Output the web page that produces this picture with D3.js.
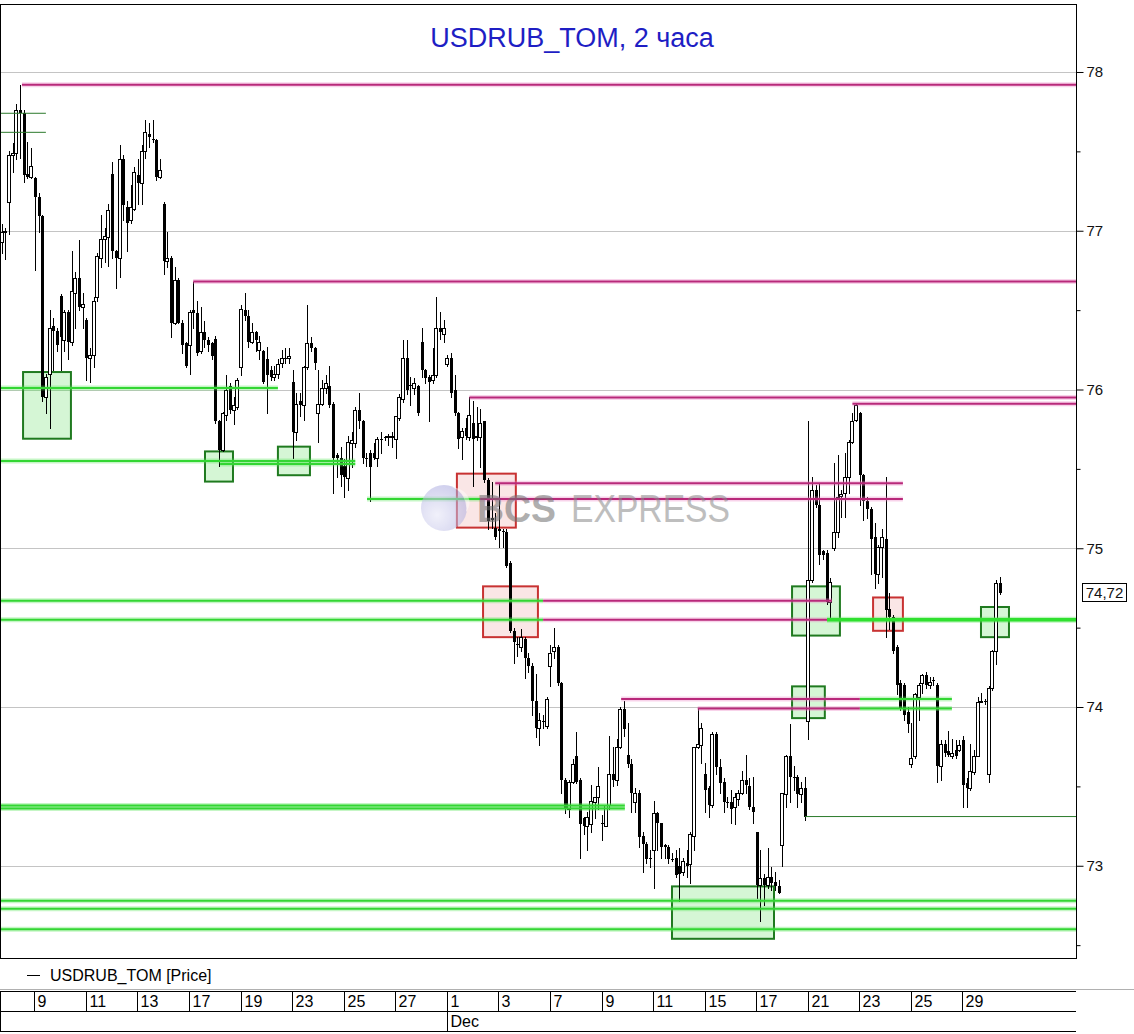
<!DOCTYPE html>
<html><head><meta charset="utf-8">
<script src="https://cdn.jsdelivr.net/npm/d3@7"></script>
<style>body{margin:0;background:#fff;} svg{display:block;font-family:Arial,"Liberation Sans",sans-serif;}</style>
</head><body><svg id="c" width="1134" height="1034"></svg>
<script>
const title = "USDRUB_TOM, 2 часа";
const legendLabel = "USDRUB_TOM [Price]";
const lastPrice = 74.72;
const lastPriceLabel = "74,72";
// [open, high, low, close] per 2-hour candle
const candles = [
[76.93,77.04,76.86,76.99],[76.99,77.02,76.82,77.00],[77.18,77.50,76.98,77.48],[77.48,77.55,77.37,77.49],[77.49,77.80,77.45,77.76],
[77.76,77.92,77.46,77.74],[77.74,77.76,77.31,77.35],[77.36,77.56,77.33,77.34],[77.34,77.52,77.33,77.41],[77.33,77.34,76.75,77.21],
[77.21,77.24,76.99,77.09],[77.09,77.10,75.93,75.95],[75.95,76.10,75.85,76.08],[76.10,76.50,75.76,76.39],[76.40,76.45,76.12,76.37],
[76.37,76.39,76.24,76.28],[76.59,76.60,76.12,76.33],[76.31,76.50,76.24,76.49],[76.49,76.50,76.19,76.30],[76.30,76.87,76.28,76.62],
[76.61,76.74,76.39,76.70],[76.70,76.94,76.50,76.52],[76.52,76.61,76.39,76.54],[76.44,76.45,76.06,76.20],[76.20,76.26,76.05,76.22],
[76.22,76.58,76.14,76.56],[76.58,76.86,76.56,76.84],[76.83,77.10,76.77,76.95],[76.95,77.02,76.80,76.97],[76.96,77.17,76.78,77.13],
[77.36,77.43,76.83,76.87],[76.87,76.88,76.64,76.83],[76.83,77.54,76.71,77.45],[77.45,77.48,77.07,77.16],[77.15,77.19,76.87,77.05],
[77.07,77.29,77.05,77.15],[77.14,77.40,77.13,77.37],[77.35,77.45,77.17,77.30],[77.30,77.54,77.17,77.50],[77.50,77.70,77.46,77.62],
[77.61,77.68,77.53,77.59],[77.58,77.70,77.56,77.57],[77.57,77.58,77.32,77.34],[77.34,77.45,77.33,77.38],[77.17,77.18,76.73,76.81],
[76.81,76.99,76.77,76.83],[76.83,76.84,76.33,76.42],[76.42,76.77,76.41,76.69],[76.69,76.70,76.42,76.42],[76.42,76.44,76.23,76.28],
[76.29,76.30,76.14,76.15],[76.28,76.50,76.10,76.49],[76.50,76.68,76.39,76.48],[76.48,76.56,76.22,76.23],[76.24,76.52,76.23,76.36],
[76.36,76.43,76.27,76.31],[76.31,76.33,76.24,76.28],[76.29,76.30,76.19,76.21],[76.32,76.34,75.79,75.80],[75.80,75.81,75.52,75.62],
[75.62,75.86,75.61,75.85],[75.84,76.09,75.81,76.00],[76.02,76.04,75.85,75.87],[75.87,75.95,75.78,75.90],[75.89,76.07,75.88,76.06],
[76.14,76.53,76.09,76.51],[76.50,76.61,76.44,76.46],[76.46,76.50,76.27,76.30],[76.30,76.42,76.29,76.36],[76.36,76.37,76.24,76.31],
[76.25,76.34,76.19,76.30],[76.24,76.25,76.04,76.05],[76.19,76.27,75.85,76.09],[76.12,76.15,76.06,76.08],[76.08,76.15,76.06,76.10],
[76.10,76.19,76.07,76.16],[76.17,76.25,76.14,76.20],[76.20,76.26,76.17,76.20],[76.20,76.26,76.17,76.21],[76.05,76.12,75.57,75.73],
[75.73,75.98,75.68,75.91],[75.93,75.98,75.83,75.90],[75.90,76.15,75.81,76.14],[76.14,76.53,76.13,76.29],[76.29,76.33,76.24,76.26],
[76.26,76.27,76.13,76.17],[75.85,76.12,75.67,75.91],[75.91,76.06,75.90,76.01],[76.01,76.09,75.98,76.04],[76.02,76.15,75.89,75.90],
[75.91,75.92,75.35,75.57],[75.59,75.60,75.45,75.57],[75.57,75.64,75.39,75.46],[75.52,75.56,75.32,75.45],[75.44,75.71,75.37,75.67],
[75.66,75.73,75.51,75.68],[75.66,75.89,75.64,75.87],[75.87,75.98,75.76,75.80],[75.80,75.81,75.54,75.57],[75.57,75.60,75.52,75.56],
[75.60,75.62,75.30,75.51],[75.60,75.66,75.56,75.57],[75.57,75.70,75.52,75.69],[75.69,75.73,75.60,75.69],[75.70,75.71,75.68,75.70],
[75.70,75.72,75.65,75.71],[75.70,75.73,75.64,75.71],[75.69,75.83,75.57,75.83],[75.82,75.97,75.81,75.95],[75.94,76.31,75.92,76.20],
[76.20,76.31,75.97,76.00],[76.03,76.08,75.90,76.03],[76.01,76.07,75.97,76.04],[76.02,76.03,75.84,75.85],[76.30,76.39,76.08,76.12],
[76.12,76.13,76.04,76.07],[76.08,76.09,75.80,76.05],[76.06,76.26,76.04,76.09],[76.09,76.58,76.08,76.39],[76.39,76.49,76.32,76.36],
[76.35,76.44,76.30,76.39],[76.16,76.22,76.15,76.20],[76.20,76.23,75.95,75.98],[76.00,76.09,75.84,75.85],[75.85,75.86,75.63,75.69],
[75.70,75.76,75.56,75.74],[75.76,75.82,75.69,75.71],[75.70,75.95,75.68,75.84],[75.79,75.93,75.39,75.69],[75.70,75.89,75.68,75.71],
[75.70,75.88,75.51,75.79],[75.80,75.80,75.42,75.43],[75.43,75.44,75.12,75.17],[75.19,75.42,75.13,75.18],[75.13,75.22,75.06,75.07],
[75.12,75.41,75.01,75.11],[75.11,75.12,75.01,75.10],[75.10,75.12,74.88,74.89],[74.91,74.92,74.47,74.48],[74.48,74.50,74.28,74.41],
[74.40,74.44,74.32,74.39],[74.38,74.49,74.35,74.44],[74.43,74.44,74.18,74.31],[74.31,74.34,74.22,74.26],[74.26,74.28,73.95,74.04],
[74.04,74.21,73.81,73.87],[73.87,73.96,73.76,73.92],[73.91,73.95,73.87,73.91],[73.88,74.06,73.87,74.05],[74.26,74.39,74.13,74.34],
[74.35,74.50,74.31,74.38],[74.38,74.39,74.14,74.15],[74.15,74.16,73.46,73.54],[73.54,73.55,73.33,73.36],[73.36,73.54,73.31,73.53],
[73.53,73.67,73.52,73.64],[73.69,73.84,73.52,73.53],[73.54,73.55,73.05,73.26],[73.30,73.31,73.20,73.25],[73.25,73.34,73.10,73.31],
[73.26,73.51,73.21,73.41],[73.40,73.43,73.30,73.43],[73.43,73.62,73.36,73.50],[73.27,73.32,73.16,73.26],[73.25,73.38,73.25,73.38],
[73.38,73.82,73.36,73.58],[73.58,73.75,73.50,73.54],[73.54,73.80,73.51,73.75],[73.75,74.00,73.74,73.99],[73.99,74.04,73.82,73.86],
[73.70,73.90,73.62,73.64],[73.64,73.67,73.34,73.46],[73.40,73.49,73.34,73.46],[73.46,73.48,73.12,73.18],[73.19,73.21,72.96,73.14],
[73.14,73.15,73.02,73.04],[73.05,73.10,72.99,73.04],[73.10,73.41,72.86,73.33],[73.33,73.34,73.10,73.27],[73.27,73.27,73.05,73.12],
[73.13,73.14,73.05,73.12],[73.12,73.13,73.02,73.04],[73.04,73.08,73.03,73.04],[73.05,73.10,72.93,72.94],[73.00,73.11,72.78,72.95],
[72.96,73.05,72.94,73.03],[73.02,73.10,72.93,73.00],[73.01,73.21,72.89,73.20],[73.19,73.75,73.10,73.75],[73.75,73.99,73.74,73.77],
[73.76,73.90,73.65,73.87],[73.58,73.65,73.34,73.48],[73.49,73.50,73.31,73.38],[73.38,73.84,73.37,73.83],[73.83,73.84,73.58,73.62],
[73.62,73.67,73.46,73.52],[73.53,73.55,73.34,73.40],[73.40,73.43,73.37,73.40],[73.40,73.48,73.27,73.36],[73.37,73.46,73.26,73.43],
[73.42,73.48,73.38,73.46],[73.46,73.60,73.45,73.54],[73.54,73.70,73.46,73.51],[73.50,73.55,73.36,73.37],[73.37,73.56,73.27,73.34],
[73.21,73.21,72.80,72.88],[72.88,73.10,72.65,72.92],[72.92,72.95,72.75,72.88],[72.88,73.11,72.86,72.93],[72.93,72.99,72.85,72.89],
[72.90,72.96,72.85,72.87],[72.87,72.91,72.83,72.83],[73.13,73.46,73.00,73.46],[73.45,73.70,73.37,73.69],[73.69,73.89,73.40,73.56],
[73.56,73.63,73.48,73.56],[73.56,73.57,73.37,73.45],[73.45,73.53,73.40,73.49],[73.49,73.56,73.29,73.31],[73.91,75.80,73.80,74.80],
[74.80,75.45,74.79,75.37],[75.37,75.40,75.26,75.27],[75.27,75.41,74.90,74.96],[74.98,74.99,74.93,74.96],[74.97,74.99,74.65,74.66],
[74.66,74.81,74.57,74.79],[75.00,75.54,74.99,75.10],[75.10,75.59,75.07,75.32],[75.33,75.37,75.20,75.34],[75.35,75.60,75.20,75.45],
[75.45,75.68,75.35,75.67],[75.67,75.85,75.66,75.80],[75.81,75.91,75.80,75.90],[75.85,75.86,75.27,75.46],[75.46,75.47,75.18,75.30],
[75.30,75.32,75.19,75.25],[75.25,75.26,74.84,75.06],[75.07,75.16,74.75,74.84],[74.84,75.02,74.78,75.01],[75.01,75.12,74.82,75.07],
[75.06,75.45,74.44,74.61],[74.62,74.72,74.49,74.57],[74.57,74.58,74.34,74.35],[74.38,74.39,74.08,74.14],[74.15,74.17,73.98,73.99],
[74.14,74.15,73.92,73.95],[73.97,74.00,73.84,73.89],[73.64,73.90,73.62,73.68],[73.69,74.09,73.68,74.08],[74.06,74.15,73.92,74.14],
[74.15,74.21,74.09,74.20],[74.20,74.22,74.12,74.14],[74.14,74.19,74.12,74.16],[74.17,74.19,74.14,74.17],[74.14,74.15,73.53,73.63],
[73.63,73.79,73.54,73.77],[73.77,73.79,73.69,73.71],[73.72,73.85,73.69,73.70],[73.69,73.80,73.68,73.71],[73.73,73.79,73.68,73.69],
[73.73,73.79,73.72,73.76],[73.79,73.82,73.37,73.51],[73.52,73.55,73.37,73.49],[73.49,73.77,73.48,73.60],[73.59,73.73,73.58,73.69],
[73.69,74.06,73.69,74.03],[74.03,74.09,74.03,74.04],[74.04,74.05,74.02,74.03],[73.58,74.13,73.53,74.12],[74.12,74.36,74.11,74.35],
[74.35,74.80,74.27,74.78],[74.78,74.82,74.71,74.72]
];
const priceTicks = [73, 74, 75, 76, 77, 78];
const priceMinorTicks = [72.5, 73.5, 74.5, 75.5, 76.5, 77.5];
const dayTickLabels = ["9","11","13","17","19","23","25","27","1","3","7","9","11","15","17","21","23","25","29"];
const dayTickIndex  = [9,23,37,51,65,79,93,107,121,135,149,163,177,191,205,219,233,247,261];
const monthTickLabels = ["Dec"];
const monthTickIndex = [121];
// [price, fromIndex, toIndex]  (null = chart edge)
const pinkLevels = [
 [77.92,5.5,null],[76.68,52,null],[75.95,127,null],[75.91,231,null],
 [75.41,134,244.7],[75.31,129.9,244.7],[74.67,147,225.4],[74.55,147,224.1],
 [74.05,168.2,233],[73.99,189,233]
];
const greenLevels = [
 [76.01,null,75],[75.55,null,96],[75.53,59.3,96],[75.31,99.2,129.9],
 [74.67,null,147],[74.55,null,147],[74.05,233,258],[73.99,233,258],
 [73.38,null,169.2],[73.36,null,169.2],[72.78,null,null],[72.73,null,null],[72.60,null,null]
];
const greenStrongLevels = [[74.55,224.1,null]];
const darkLevels = [[77.74,null,12],[77.62,null,12],[73.31,218.1,null]];
// [fromIndex, toIndex, topPrice, bottomPrice]
const greenZones = [
 [5.8,18.8,76.11,75.69],[55.2,62.8,75.61,75.42],[75.0,83.7,75.64,75.46],
 [214.6,227.6,74.76,74.45],[214.6,223.5,74.13,73.93],[265.9,273.5,74.63,74.44],[182.0,209.7,72.87,72.54]
];
const redZones = [[123.6,139.6,75.47,75.13],[130.7,145.6,74.76,74.44],[236.6,244.7,74.69,74.48]];

const W = 1134, H = 1034;
const plot = {left: 0, right: 1076, top: 5, bottom: 958};
const svg = d3.select("#c");
const x = d3.scaleLinear().domain([-0.46, 291.7]).range([plot.left, plot.right]);
const y = d3.scaleLinear().domain([72.419, 78.422]).range([plot.bottom, plot.top]);
const ex = (v, edge) => v === null ? edge : x(v);

svg.append("rect").attr("width", W).attr("height", H).attr("fill", "#fff");

// grid
svg.append("g").selectAll("line").data(priceTicks).join("line")
  .attr("x1", plot.left + 1).attr("x2", plot.right)
  .attr("y1", d => Math.round(y(d)) + 0.5).attr("y2", d => Math.round(y(d)) + 0.5)
  .attr("stroke", "#c4c4c4").attr("stroke-width", 1);

// zones
const zoneG = svg.append("g");
zoneG.selectAll("rect.g").data(greenZones).join("rect")
  .attr("x", d => x(d[0])).attr("width", d => x(d[1]) - x(d[0]))
  .attr("y", d => y(d[2])).attr("height", d => y(d[3]) - y(d[2]))
  .attr("fill", "rgba(100,220,100,0.27)").attr("stroke", "#1f7a1f").attr("stroke-width", 2);
zoneG.selectAll("rect.r").data(redZones).join("rect")
  .attr("x", d => x(d[0])).attr("width", d => x(d[1]) - x(d[0]))
  .attr("y", d => y(d[2])).attr("height", d => y(d[3]) - y(d[2]))
  .attr("fill", "rgba(220,80,80,0.14)").attr("stroke", "#c83232").attr("stroke-width", 2);

// candles
const cg = svg.append("g").attr("shape-rendering", "crispEdges");
candles.forEach((c, i) => {
  const [o, h, l, cl] = c;
  const p = Math.round(x(i));
  cg.append("line").attr("x1", p + 0.5).attr("x2", p + 0.5)
    .attr("y1", Math.round(y(h))).attr("y2", Math.round(y(l)) + 1)
    .attr("stroke", "#000").attr("stroke-width", 1);
  const yt = Math.round(y(Math.max(o, cl))), yb = Math.round(y(Math.min(o, cl)));
  if (cl > o) {
    cg.append("rect").attr("x", p - 1.5).attr("y", yt + 0.5)
      .attr("width", 3).attr("height", Math.max(yb - yt, 1))
      .attr("fill", "#fff").attr("stroke", "#000").attr("stroke-width", 1);
  } else {
    cg.append("rect").attr("x", p - 1).attr("y", yt)
      .attr("width", 3).attr("height", Math.max(yb - yt, 1)).attr("fill", "#000");
  }
});

// levels
function drawLevels(data, core, halo, w, hw) {
  const g = svg.append("g");
  const seg = d => [ex(d[1], plot.left + 1), ex(d[2], plot.right)];
  g.selectAll("line.h").data(data).join("line")
    .attr("x1", d => seg(d)[0]).attr("x2", d => seg(d)[1])
    .attr("y1", d => y(d[0])).attr("y2", d => y(d[0]))
    .attr("stroke", halo).attr("stroke-width", hw);
  g.selectAll("line.c").data(data).join("line")
    .attr("x1", d => seg(d)[0]).attr("x2", d => seg(d)[1])
    .attr("y1", d => y(d[0])).attr("y2", d => y(d[0]))
    .attr("stroke", core).attr("stroke-width", w);
}
drawLevels(greenLevels, "#33d633", "rgba(90,230,90,0.35)", 2, 5);
drawLevels(greenStrongLevels, "#2fe02f", "rgba(90,230,90,0.4)", 3.5, 6);
drawLevels(pinkLevels, "#b8297a", "rgba(235,130,195,0.35)", 2, 5);
drawLevels(darkLevels, "#2b7a2b", "rgba(0,0,0,0)", 1, 1);

// watermark
const wm = svg.append("g").attr("opacity", 0.55);
const grad = svg.append("defs").append("radialGradient").attr("id", "wmg").attr("cx", "35%").attr("cy", "65%").attr("r", "70%");
grad.append("stop").attr("offset", "0%").attr("stop-color", "#e6e6f7");
grad.append("stop").attr("offset", "100%").attr("stop-color", "#a9a9df");
wm.append("circle").attr("cx", 444).attr("cy", 508).attr("r", 23).attr("fill", "url(#wmg)");
wm.append("path").attr("d", "M 452 487 A 23 23 0 0 1 466 512 A 20 16 0 0 0 452 487 Z").attr("fill", "#fff").attr("opacity", 0.8);
wm.append("text").attr("x", 477).attr("y", 522).attr("font-size", 39).attr("font-weight", "bold")
  .attr("fill", "#6e6e6e").attr("textLength", 79).attr("lengthAdjust", "spacingAndGlyphs").text("BCS");
wm.append("text").attr("x", 571).attr("y", 522).attr("font-size", 39)
  .attr("fill", "#8a8a8a").attr("textLength", 159).attr("lengthAdjust", "spacingAndGlyphs").text("EXPRESS");

// frame
svg.append("rect").attr("x", 0.5).attr("y", plot.top - 0.5).attr("width", plot.right - 0.5).attr("height", plot.bottom - plot.top + 0.5)
  .attr("fill", "none").attr("stroke", "#000").attr("stroke-width", 1).attr("shape-rendering", "crispEdges");

// right axis
const ax = svg.append("g").attr("transform", `translate(${plot.right + 0.5},0)`)
  .call(d3.axisRight(y).tickValues(priceTicks).tickSize(7).tickPadding(3).tickFormat(d3.format("d")));
ax.select(".domain").remove();
ax.selectAll("text").attr("font-size", 15).attr("fill", "#111").attr("font-family", "Arial, 'Liberation Sans', sans-serif");
const axm = svg.append("g").attr("transform", `translate(${plot.right + 0.5},0)`)
  .call(d3.axisRight(y).tickValues(priceMinorTicks).tickSize(4).tickFormat(""));
axm.select(".domain").remove();

// last price box
const lpy = Math.round(y(lastPrice));
svg.append("rect").attr("x", 1082.5).attr("y", lpy - 9.5).attr("width", 44).attr("height", 18)
  .attr("fill", "#fff").attr("stroke", "#000").attr("stroke-width", 1);
svg.append("text").attr("x", 1104.5).attr("y", lpy + 5).attr("text-anchor", "middle")
  .attr("font-size", 15).attr("fill", "#111").text(lastPriceLabel);

// title
svg.append("text").attr("x", 572).attr("y", 47).attr("text-anchor", "middle")
  .attr("font-size", 27).attr("fill", "#1e1ec4").text(title);

// legend
svg.append("line").attr("x1", 27).attr("x2", 40).attr("y1", 975.5).attr("y2", 975.5).attr("stroke", "#000");
svg.append("text").attr("x", 50).attr("y", 981).attr("font-size", 16).attr("fill", "#000").text(legendLabel);

// date axis
const da = svg.append("g").attr("shape-rendering", "crispEdges");
da.append("line").attr("x1", 0).attr("x2", W).attr("y1", 989.5).attr("y2", 989.5).attr("stroke", "#b0b0b0");
[991.5, 1011.5, 1031.5].forEach(yy => da.append("line").attr("x1", 0).attr("x2", plot.right).attr("y1", yy).attr("y2", yy).attr("stroke", "#000"));
da.append("line").attr("x1", 0.5).attr("x2", 0.5).attr("y1", 991).attr("y2", 1031.5).attr("stroke", "#000");
dayTickIndex.forEach((idx, k) => {
  const sx = Math.round(x(idx) - 0.5) + 0.5;
  da.append("line").attr("x1", sx).attr("x2", sx).attr("y1", 991.5).attr("y2", 1011.5).attr("stroke", "#000");
  svg.append("text").attr("x", sx + 3).attr("y", 1007).attr("font-size", 16).attr("fill", "#000").text(dayTickLabels[k]);
});
monthTickIndex.forEach((idx, k) => {
  const sx = Math.round(x(idx) - 0.5) + 0.5;
  da.append("line").attr("x1", sx).attr("x2", sx).attr("y1", 1011.5).attr("y2", 1031.5).attr("stroke", "#000");
  svg.append("text").attr("x", sx + 3).attr("y", 1027).attr("font-size", 16).attr("fill", "#000").text(monthTickLabels[k]);
});
</script></body></html>
